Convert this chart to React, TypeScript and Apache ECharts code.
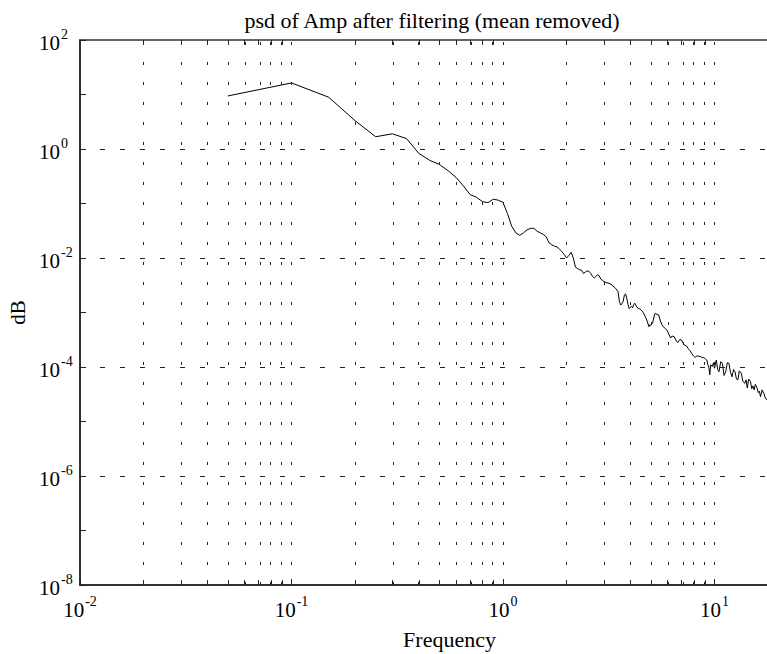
import React, { useEffect, useRef } from "react";
import * as echarts from "echarts";

const titleText = "psd of Amp after filtering (mean removed)";
const xLabelText = "Frequency";
const yLabelText = "dB";

// frequency (Hz) and power spectral density
const freq = [
  0.05, 0.1, 0.15, 0.2, 0.25, 0.3, 0.35, 0.4, 0.45, 0.5, 0.55, 0.6, 0.65, 0.7, 0.75, 0.8, 0.85, 0.9, 0.95, 1.0,
  1.05, 1.1, 1.15, 1.2, 1.25, 1.3, 1.35, 1.4, 1.45, 1.5, 1.55, 1.6, 1.65, 1.7, 1.75, 1.8, 1.85, 1.9, 1.95, 2.0,
  2.05, 2.1, 2.15, 2.2, 2.25, 2.3, 2.35, 2.4, 2.45, 2.5, 2.55, 2.6, 2.65, 2.7, 2.75, 2.8, 2.85, 2.9, 2.95, 3.0,
  3.1, 3.2, 3.3, 3.4, 3.5, 3.55, 3.6, 3.65, 3.7, 3.75, 3.8, 3.85, 3.9, 3.95, 4.0, 4.05, 4.1, 4.15, 4.2, 4.25,
  4.3, 4.35, 4.4, 4.5, 4.6, 4.7, 4.8, 4.9, 4.95, 5.0, 5.1, 5.2, 5.25, 5.35, 5.45, 5.55, 5.65, 5.8, 5.95, 6.05,
  6.2, 6.3, 6.45, 6.6, 6.7, 6.85, 7.0, 7.15, 7.25, 7.4, 7.5, 7.65, 7.8, 7.95, 8.1, 8.25, 8.4, 8.6, 8.75, 8.9,
  9.05, 9.2, 9.3, 9.4, 9.5, 9.6, 9.75, 9.9, 10.0, 10.2, 10.35, 10.5, 10.7, 10.9, 11.1, 11.3, 11.5, 11.7, 11.9, 12.1,
  12.3, 12.5, 12.7, 12.9, 13.1, 13.4, 13.6, 13.9, 14.1, 14.3, 14.5, 14.8, 15.0, 15.2, 15.4, 15.6, 15.9, 16.1, 16.3, 16.5,
  16.8, 17.1, 17.4, 17.7, 18.0,
];

const psd = [
  9.4, 16.3, 8.9, 3.3, 1.68, 1.9, 1.55, 0.83, 0.62, 0.52, 0.4, 0.3, 0.21, 0.145, 0.13, 0.108, 0.104, 0.12, 0.115, 0.105,
  0.065, 0.038, 0.029, 0.026, 0.029, 0.033, 0.035, 0.035, 0.031, 0.029, 0.027, 0.0245, 0.019, 0.0175, 0.0165, 0.016, 0.0145, 0.013, 0.0115, 0.01,
  0.0112, 0.0127, 0.01, 0.0068, 0.0064, 0.0061, 0.006, 0.0052, 0.0055, 0.0058, 0.0057, 0.0052, 0.0046, 0.0043, 0.0046, 0.0049, 0.0047, 0.0041, 0.0039, 0.0037,
  0.0035, 0.0034, 0.0031, 0.0028, 0.0024, 0.0016, 0.00137, 0.00145, 0.0016, 0.0021, 0.0022, 0.0018, 0.0014, 0.00118, 0.00125, 0.0013, 0.00122, 0.0014, 0.00148, 0.00135,
  0.00125, 0.0012, 0.00118, 0.00112, 0.001, 0.00085, 0.0007, 0.00055, 0.0006, 0.00058, 0.00065, 0.0009, 0.00097, 0.00092, 0.0009, 0.0007, 0.00059, 0.00052, 0.00048, 0.00042,
  0.00034, 0.00037, 0.00036, 0.0003, 0.00028, 0.00032, 0.00031, 0.00026, 0.00025, 0.00024, 0.00022, 0.0002, 0.000178, 0.00016, 0.00015, 0.00016, 0.000158, 0.000155, 0.000148, 0.00015,
  0.00014, 0.000134, 0.00011, 0.0001, 0.000072, 0.00011, 0.000102, 0.00012, 0.000095, 0.000134, 0.00009, 0.000082, 0.000125, 0.000117, 0.00007, 0.000082, 0.00012, 0.000117, 0.00008, 0.000066,
  0.00009, 0.000082, 0.00006, 0.000058, 0.000085, 0.000077, 0.000055, 0.00005, 0.000058, 0.000041, 0.00006, 0.000054, 0.00004, 0.000045, 0.000038, 0.000048, 0.000041, 0.000034, 0.000036, 0.0000285,
  0.000038, 0.000033, 0.000027, 0.0000248, 0.000028,
];

// axis limits (data units) and grid positions
const xMin = 0.01;
const xMax = 18.1;
const yMin = 1e-8;
const yMax = 1e2;
const xGridValues = [
  0.02, 0.03, 0.04, 0.05, 0.06, 0.07, 0.08, 0.09, 0.1,
  0.2, 0.3, 0.4, 0.5, 0.6, 0.7, 0.8, 0.9, 1,
  2, 3, 4, 5, 6, 7, 8, 9, 10,
];
const xMinorTickValues = [
  0.02, 0.03, 0.04, 0.05, 0.06, 0.07, 0.08, 0.09,
  0.2, 0.3, 0.4, 0.5, 0.6, 0.7, 0.8, 0.9,
  2, 3, 4, 5, 6, 7, 8, 9,
];
const yGridValues = [1, 1e-2, 1e-4, 1e-6];

const FONT = "'Liberation Serif', 'DejaVu Serif', serif";
const lg = (v: number) => Math.log10(v);

const expLabel = (e: number) => {
  const r = Math.round(e);
  if (Math.abs(e - r) > 1e-6) return "";
  return `{b|10}{s|${r}}`;
};

export default function App() {
  const ref = useRef<HTMLDivElement>(null);
  useEffect(() => {
    if (!ref.current) return;
    const chart = echarts.init(ref.current, undefined, { renderer: "svg" });
    const rich = {
      b: { fontSize: 21, fontFamily: FONT, color: "#000", lineHeight: 26, verticalAlign: "bottom" },
      s: { fontSize: 14, fontFamily: FONT, color: "#000", lineHeight: 26, verticalAlign: "top", padding: [0, 0, 0, 1] },
    };
    const markData: any[] = [];
    xGridValues.forEach((v) =>
      markData.push({ xAxis: lg(v), lineStyle: { color: "#222", width: 1, type: [3, 17] } })
    );
    yGridValues.forEach((v) =>
      markData.push({ yAxis: lg(v), lineStyle: { color: "#222", width: 1, type: [5, 15] } })
    );
    const tickLen = 0.09;
    xMinorTickValues.forEach((v) => {
      markData.push([
        { coord: [lg(v), lg(yMin)], lineStyle: { color: "#222", width: 1, type: "solid" } },
        { coord: [lg(v), lg(yMin) + tickLen] },
      ]);
      markData.push([
        { coord: [lg(v), lg(yMax)], lineStyle: { color: "#222", width: 1, type: "solid" } },
        { coord: [lg(v), lg(yMax) - tickLen] },
      ]);
    });
    chart.setOption({
      animation: false,
      backgroundColor: "#fff",
      title: {
        text: titleText,
        left: 427,
        top: 4,
        textAlign: "center",
        textStyle: { fontFamily: FONT, fontSize: 22, fontWeight: "normal", color: "#000" },
      },
      grid: {
        left: 80,
        top: 40,
        right: -2,
        bottom: 69,
        containLabel: false,
        outerBoundsMode: "none",
        show: true,
        borderColor: "#333",
        borderWidth: 1.5,
        backgroundColor: "transparent",
      },
      xAxis: {
        type: "value",
        min: lg(xMin),
        max: lg(xMax),
        interval: 1,
        name: xLabelText,
        nameLocation: "middle",
        nameGap: 43,
        nameTextStyle: { fontFamily: FONT, fontSize: 22, color: "#000", padding: [0, 0, 0, 50] },
        axisLine: { show: true, onZero: false, lineStyle: { color: "#222", width: 1.5 } },
        axisTick: { show: true, inside: true, length: 6, lineStyle: { color: "#222" } },
        splitLine: { show: false },
        axisLabel: {
          margin: 9,
          showMaxLabel: false,
          formatter: (v: number) => expLabel(v),
          rich,
        },
      },
      yAxis: {
        type: "value",
        min: lg(yMin),
        max: lg(yMax),
        interval: 2,
        name: yLabelText,
        nameLocation: "middle",
        nameGap: 52,
        nameTextStyle: { fontFamily: FONT, fontSize: 21, color: "#000" },
        axisLine: { show: true, onZero: false, lineStyle: { color: "#222", width: 1.5 } },
        axisTick: { show: true, inside: true, length: 6, lineStyle: { color: "#222" } },
        minorTick: { show: true, splitNumber: 2, length: 6, lineStyle: { color: "#222" } },
        splitLine: { show: false },
        axisLabel: {
          margin: 41,
          align: "left",
          formatter: (v: number) => expLabel(v),
          rich,
        },
      },
      series: [
        {
          type: "line",
          data: freq.map((f, i) => [lg(f), lg(psd[i])]),
          showSymbol: false,
          symbol: "none",
          lineStyle: { color: "#000", width: 1 },
          markLine: {
            silent: true,
            symbol: ["none", "none"],
            label: { show: false },
            data: markData,
          },
          z: 3,
        },
      ],
    });
    return () => chart.dispose();
  }, []);
  return (
    <div
      ref={ref}
      style={{ position: "fixed", left: 0, top: 0, width: 767, height: 654, background: "#fff" }}
    />
  );
}
